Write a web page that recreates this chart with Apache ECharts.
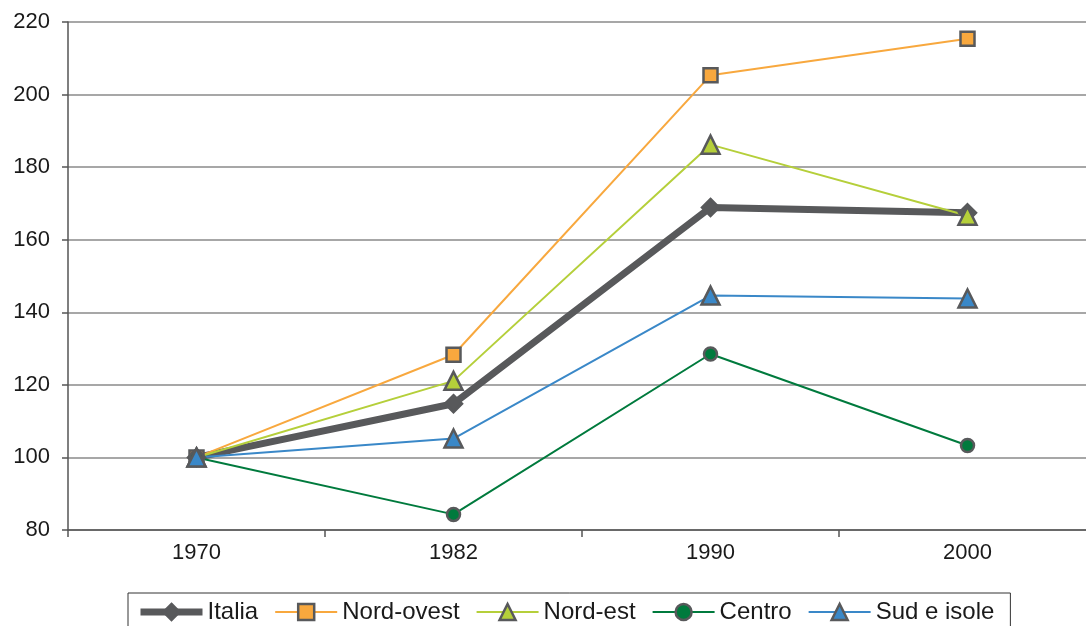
<!DOCTYPE html>
<html>
<head>
<meta charset="utf-8">
<script src="https://cdn.jsdelivr.net/npm/echarts@6/dist/echarts.min.js"></script>
<style>
html,body{margin:0;padding:0;background:#fff;}
#chart{width:1086px;height:626px;}
</style>
</head>
<body>
<div id="chart"></div>
<script>
const categories = ['1970', '1982', '1990', '2000'];
const italia = [100, 114.8, 168.9, 167.4];
const nordOvest = [100, 128.3, 205.3, 215.4];
const nordEst = [100, 121.1, 186.2, 166.6];
const centro = [100, 84.3, 128.5, 103.3];
const sudIsole = [100, 105.2, 144.6, 143.8];
const seriesNames = ['Italia', 'Nord-ovest', 'Nord-est', 'Centro', 'Sud e isole'];

const border = '#58595b';
const font = '"Liberation Sans", Arial, sans-serif';

function mk(name, data, color, symbol, size, width) {
  return {
    name: name, type: 'line', data: data,
    symbol: symbol, symbolSize: size,
    showAllSymbol: true,
    lineStyle: {color: color, width: width},
    itemStyle: {color: color, borderColor: border, borderWidth: 2.5},
    emphasis: {disabled: true},
    animation: false
  };
}

const chart = echarts.init(document.getElementById('chart'), null, {renderer: 'canvas'});
chart.setOption({
  backgroundColor: '#ffffff',
  animation: false,
  grid: {left: 68, right: -10, top: 22, bottom: 96, containLabel: false, outerBoundsMode: 'none'},
  xAxis: {
    type: 'category', data: categories, boundaryGap: true,
    axisLine: {lineStyle: {color: '#555555', width: 1.5}},
    axisTick: {show: true, length: 7, lineStyle: {color: '#555555', width: 1.5}},
    axisLabel: {fontFamily: font, fontSize: 22, color: '#1a1a1a', margin: 12},
    splitLine: {show: false}
  },
  yAxis: {
    type: 'value', min: 80, max: 220, interval: 20,
    axisLine: {show: true, lineStyle: {color: '#555555', width: 1.5}},
    axisTick: {show: true, length: 6, lineStyle: {color: '#555555', width: 1.5}},
    axisLabel: {fontFamily: font, fontSize: 22, color: '#1a1a1a', margin: 18},
    splitLine: {show: true, lineStyle: {color: '#8a8a8a', width: 1.5}}
  },
  legend: {
    data: seriesNames,
    left: 128, top: 593,
    orient: 'horizontal',
    padding: [7, 16, 12, 9],
    itemWidth: 62, itemHeight: 20, itemGap: 16,
    borderColor: '#333333', borderWidth: 1,
    lineStyle: {width: 'inherit'},
    itemStyle: {borderWidth: 'inherit', borderColor: 'inherit'},
    textStyle: {fontFamily: font, fontSize: 24, color: '#1a1a1a'}
  },
  series: [
    mk(seriesNames[0], italia, '#58595b', 'diamond', 17, 7),
    mk(seriesNames[1], nordOvest, '#f8a83e', 'rect', 14, 2),
    mk(seriesNames[2], nordEst, '#b5cf3a', 'triangle', 18, 2),
    mk(seriesNames[3], centro, '#007a3d', 'circle', 13, 2),
    mk(seriesNames[4], sudIsole, '#3a88c8', 'triangle', 18, 2)
  ]
});
</script>
</body>
</html>
